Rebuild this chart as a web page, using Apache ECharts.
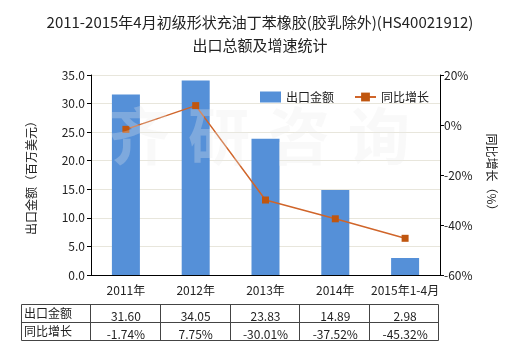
<!DOCTYPE html>
<html><head><meta charset="utf-8">
<script src="https://cdn.jsdelivr.net/npm/echarts@6/dist/echarts.min.js"></script>
<style>html,body{margin:0;padding:0;background:#fff}#c{width:520px;height:350px}</style>
</head><body><div id="c"></div>
<script>
const categories = ['2011年','2012年','2013年','2014年','2015年1-4月'];
const exportValues = [31.60, 34.05, 23.83, 14.89, 2.98];
const growthValues = [-1.74, 7.75, -30.01, -37.52, -45.32];
const leftTicks = {min:0, max:35, interval:5};
const rightTicks = {min:-60, max:20, interval:20};
const seriesNames = ['出口金额','同比增长'];

const FONT = '"Noto Sans CJK SC", "Microsoft YaHei", sans-serif';
const chart = echarts.init(document.getElementById('c'));
const gridL = 91, gridR = 80, gridT = 75, gridB = 75;
chart.setOption({
  animation:false,
  textStyle:{fontFamily:FONT},
  title:{text:'2011-2015年4月初级形状充油丁苯橡胶(胶乳除外)(HS40021912)\n出口总额及增速统计', left:'center', top:6,
    textStyle:{fontSize:15, fontWeight:'normal', color:'#222', lineHeight:23, fontFamily:FONT}},
  legend:{left:255, top:86, itemWidth:21, itemHeight:11, itemGap:20,
    textStyle:{fontSize:12, color:'#222'},
    data:[{name:seriesNames[0], icon:'rect'}, {name:seriesNames[1]}]},
  grid:{left:gridL, right:gridR, top:gridT, bottom:gridB},
  xAxis:{type:'category', data:categories,
    axisLine:{lineStyle:{color:'#000'}}, axisTick:{alignWithLabel:true, length:4, lineStyle:{color:'#000'}},
    axisLabel:{color:'#222', fontSize:12, margin:9, interval:0}},
  yAxis:[
    {type:'value', min:leftTicks.min, max:leftTicks.max, interval:leftTicks.interval,
     name:'出口金额（百万美元）', nameLocation:'middle', nameGap:54, nameRotate:90,
     nameTextStyle:{fontSize:12, color:'#222'},
     axisLine:{show:true, lineStyle:{color:'#000'}}, axisTick:{show:true, length:4, lineStyle:{color:'#000'}},
     axisLabel:{color:'#222', fontSize:12, formatter:v=>v.toFixed(1), margin:6},
     splitLine:{lineStyle:{color:'#e8e6dc'}}},
    {type:'value', min:rightTicks.min, max:rightTicks.max, interval:rightTicks.interval,
     name:'同比增长（%）', nameLocation:'middle', nameGap:46, nameRotate:-90,
     nameTextStyle:{fontSize:12, color:'#222'},
     axisLine:{show:true, lineStyle:{color:'#000'}}, axisTick:{show:true, length:4, lineStyle:{color:'#000'}},
     axisLabel:{color:'#222', fontSize:12, formatter:'{value}%', margin:4},
     splitLine:{show:false}}
  ],
  series:[
    {name:seriesNames[0], type:'bar', data:exportValues, barWidth:28, itemStyle:{color:'#5590d8'}, z:2},
    {name:seriesNames[1], type:'line', yAxisIndex:1, data:growthValues, symbol:'rect', symbolSize:7,
     lineStyle:{color:'#d0652a', width:1.5}, itemStyle:{color:'#c0560f'}, z:5}
  ]
});

const cw = (520 - gridL - gridR) / categories.length;
const tblL = 21, tblT = 304, rowH = 18;
const g = [];
['齐','研','咨','询'].forEach((ch,i)=>{
  g.push({type:'text', left:108 + i*80, top:105, z:10, silent:true,
    style:{text:ch, font:'bold 62px '+FONT, fill:'rgba(235,235,235,0.28)'}});
});
const tblR = gridL + cw*categories.length - 2;
g.push({type:'rect', shape:{x:tblL+0.5, y:tblT+0.5, width:tblR-tblL, height:rowH*2}, style:{fill:'none', stroke:'#444', lineWidth:1}});
g.push({type:'line', shape:{x1:tblL, y1:tblT+rowH+0.5, x2:tblR, y2:tblT+rowH+0.5}, style:{stroke:'#444', lineWidth:1}});
for(let i=0;i<categories.length;i++){
  const x = Math.round(gridL - 1 + cw*i) + 0.5;
  g.push({type:'line', shape:{x1:x, y1:tblT, x2:x, y2:tblT+rowH*2}, style:{stroke:'#444', lineWidth:1}});
}
const rows = [[seriesNames[0], exportValues.map(v=>v.toFixed(2))], [seriesNames[1], growthValues.map(v=>v.toFixed(2)+'%')]];
rows.forEach((r,ri)=>{
  const cy = tblT + rowH*ri + rowH/2 + 1;
  g.push({type:'text', x:tblL+3, y:cy-1, style:{text:r[0], font:'12px '+FONT, fill:'#222', textVerticalAlign:'middle', verticalAlign:'middle'}});
  r[1].forEach((t,i)=>{
    g.push({type:'text', x:gridL + cw*i + cw/2, y:cy+2, style:{text:t, font:'12px '+FONT, fill:'#222', textAlign:'center', align:'center', textVerticalAlign:'middle', verticalAlign:'middle'}});
  });
});
chart.setOption({graphic:g});
</script></body></html>
